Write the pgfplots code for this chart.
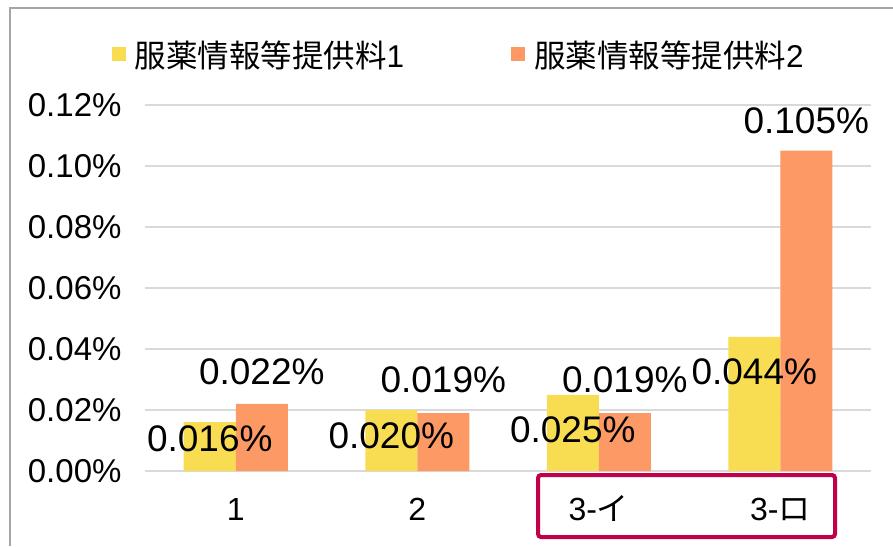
\documentclass[border=0pt]{standalone}
\usepackage{fontspec}
\setmainfont{Liberation Sans}
\newfontfamily\cjk{Noto Sans CJK JP}
\usepackage{pgfplots}
\pgfplotsset{compat=1.18}
\usepackage{pgfplotstable}
\definecolor{cy}{RGB}{248,221,82}
\definecolor{co}{RGB}{252,153,100}
\definecolor{framegray}{RGB}{166,166,166}
\definecolor{boxred}{RGB}{192,0,72}
\definecolor{gridgray}{RGB}{217,217,217}

\pgfplotstableread{
x y off
0 0.016 17
1 0.020 26
2 0.025 35
3 0.044 35
}\tA
\pgfplotstableread{
x y off
0 0.022 32
1 0.019 33
2 0.019 33
3 0.105 30
}\tB

\begin{document}
\begin{tikzpicture}
\useasboundingbox (-145pt,-75pt) rectangle (748pt,471pt);
\fill[white] (-145pt,-75pt) rectangle (748pt,471pt);
\draw[framegray, line width=1.5pt] (-135pt,-75pt) -- (-135pt,463pt) -- (748pt,463pt);
\begin{axis}[
  at={(0,0)}, anchor=south west,
  scale only axis, width=726pt, height=366pt,
  ybar=0pt, bar width=52pt,
  xmin=-0.5, xmax=3.5, ymin=0, ymax=0.12,
  xtick=data, xticklabels={1,2,{3-{\cjk イ}},{3-{\cjk ロ}}},
  ytick={0,0.02,0.04,0.06,0.08,0.1,0.12},
  scaled y ticks=false,
  yticklabel={\pgfmathprintnumber[fixed,fixed zerofill,precision=2,assume math mode=true]{\tick}\%},
  axis line style={draw=none}, major tick length=0pt,
  ymajorgrids, grid style={draw=gridgray, line width=1.5pt},
  tick label style={font=\fontsize{32}{38}\selectfont},
  yticklabel style={xshift=-20pt, font=\fontsize{33}{39}\selectfont},
  xticklabel style={yshift=-38pt, text height=0.75em, text depth=0.2em},
  clip=false,
  legend columns=2,
  legend style={draw=none, fill=none, font=\fontsize{31.5}{37}\selectfont,
    at={(axis description cs:0.432,1.138)}, anchor=center,
    /tikz/every even column/.append style={column sep=105pt}},
  legend image code/.code={\fill[#1] (0pt,-7pt) rectangle (14pt,7pt); \path (21pt,0pt);},
  nodes near coords={\pgfmathprintnumber[fixed,fixed zerofill,precision=3,assume math mode=true]{\pgfplotspointmeta}\%},
  visualization depends on={\thisrow{off} \as \off},
]
\addplot[fill=cy, draw=none,
  every node near coord/.append style={font=\fontsize{37}{44}\selectfont, text=black, anchor=center, yshift=-\off pt}]
  table[x=x,y=y] {\tA};
\addplot[fill=co, draw=none,
  every node near coord/.append style={font=\fontsize{37}{44}\selectfont, text=black, anchor=center, yshift=\off pt}]
  table[x=x,y=y] {\tB};
\legend{{\cjk 服薬情報等提供料}1,{\cjk 服薬情報等提供料}2}
\end{axis}
\draw[boxred, line width=4pt, rounded corners=3pt] (393pt,-4pt) rectangle (690pt,-66pt);
\end{tikzpicture}
\end{document}
